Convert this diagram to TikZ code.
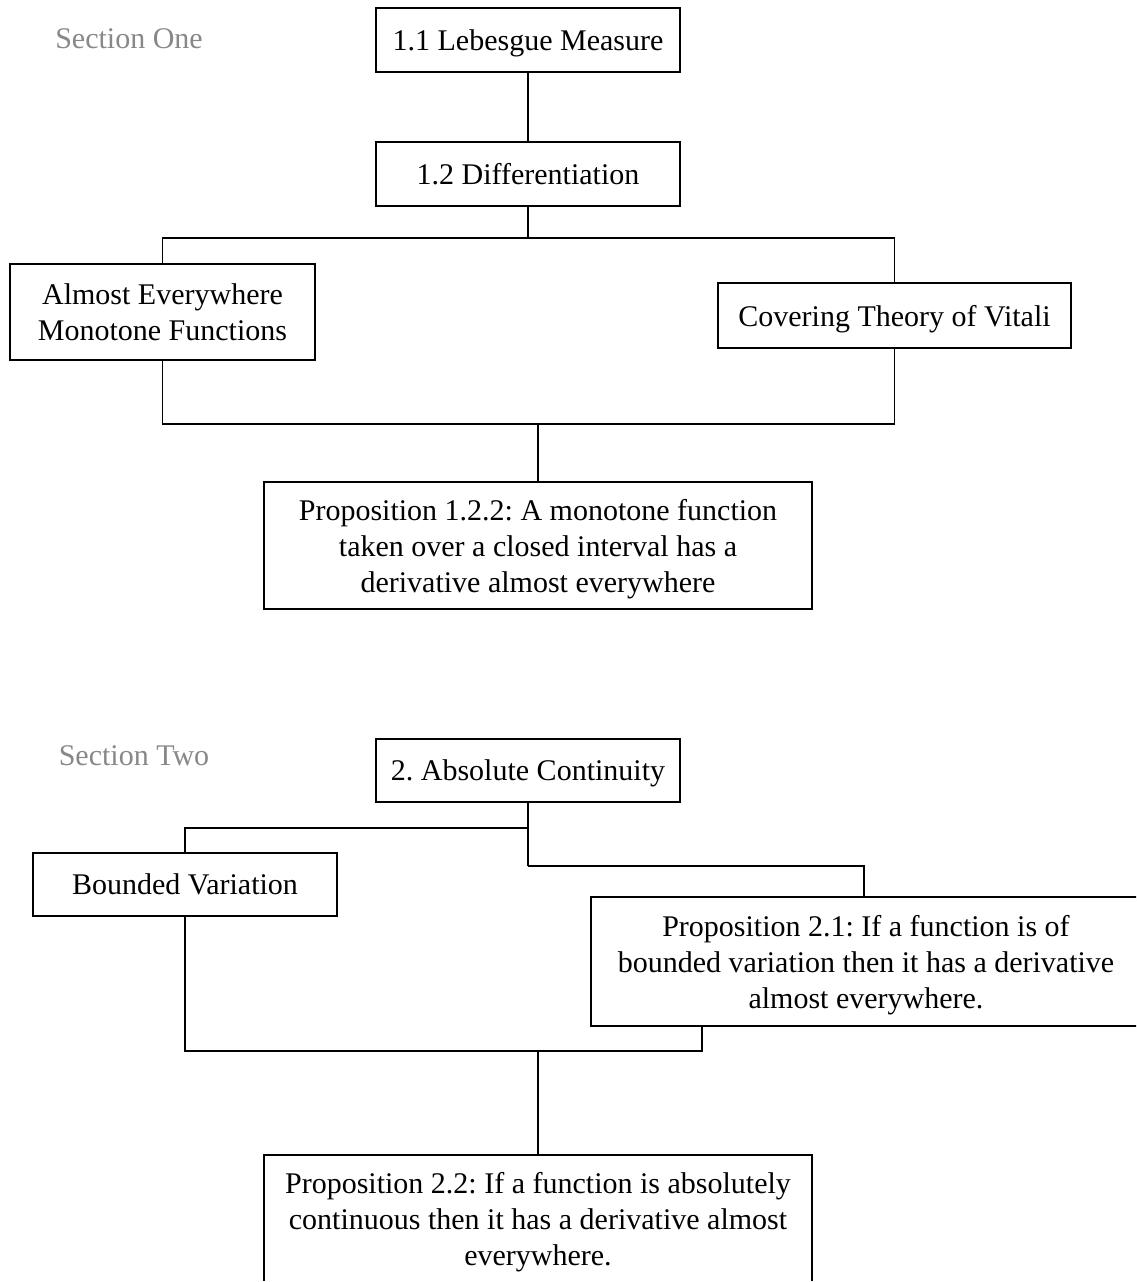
\documentclass[tikz,border=0pt]{standalone}
\usepackage{fontspec}
\setmainfont{Liberation Serif}
\definecolor{secgray}{HTML}{888888}
\begin{document}
\frenchspacing
\begin{tikzpicture}[x=1pt,y=-1pt,
  box/.style={draw, line width=1.6pt, align=center, inner sep=2pt, text depth=0pt,
    font=\fontsize{30}{36}\selectfont},
  seclabel/.style={text=secgray, font=\fontsize{30}{36}\selectfont, inner sep=0pt},
  conn/.style={line width=1.6pt}]
\useasboundingbox (0,0) rectangle (1136,1282);
\clip (0,0) rectangle (1136,1280.5);
\fill[white] (0,0) rectangle (1136,1282);

% Section One
\node[seclabel] (s1) at (129,39) {Section One};
\node[box, minimum width=304pt, minimum height=64pt] (L11) at (528,40) {1.1 Lebesgue Measure};
\node[box, minimum width=304pt, minimum height=64pt] (L12) at (528,174) {1.2 Differentiation};
\node[box, minimum width=305pt, minimum height=96pt] (AEM) at (162.5,312) {Almost Everywhere\\Monotone Functions};
\node[box, minimum width=353pt, minimum height=65pt] (CTV) at (894.5,315.5) {Covering Theory of Vitali};
\node[box, minimum width=548pt, minimum height=127pt] (P122) at (538,545.5) {Proposition 1.2.2: A monotone function\\taken over a closed interval has a\\derivative almost everywhere};

\coordinate (j1) at (528,238);
\coordinate (j2) at (538,424);
\draw[conn] (L11.south) -- (L12.north);
\draw[conn] (L12.south) -- (j1);
\draw[conn] (j1) -| (AEM.north);
\draw[conn] (j1) -| (CTV.north);
\draw[conn] (AEM.south) |- (j2);
\draw[conn] (CTV.south) |- (j2);
\draw[conn] (j2) -- (P122.north);

% Section Two
\node[seclabel] (s2) at (134,756) {Section Two};
\node[box, minimum width=304pt, minimum height=63pt] (AC) at (528,770.5) {2. Absolute Continuity};
\node[box, minimum width=304pt, minimum height=63pt] (BV) at (185,884.5) {Bounded Variation};
\node[box, minimum width=550pt, minimum height=129pt] (P21) at (866,961.5) {Proposition 2.1: If a function is of\\bounded variation then it has a derivative\\almost everywhere.};
\node[box, minimum width=548pt, minimum height=127pt] (P22) at (538,1218.5) {Proposition 2.2: If a function is absolutely\\continuous then it has a derivative almost\\everywhere.};

\coordinate (j3) at (528,828);
\coordinate (j4) at (528,866);
\coordinate (j5) at (538,1051);
\coordinate (p21t) at (864,897);
\coordinate (p21b) at (702,1026);
\draw[conn] (AC.south) -- (j3);
\draw[conn] (j3) -| (BV.north);
\draw[conn] (j3) -- (j4);
\draw[conn] (j4) -| (p21t);
\draw[conn] (BV.south) |- (j5);
\draw[conn] (p21b) |- (j5);
\draw[conn] (j5) -- (P22.north);
\end{tikzpicture}
\end{document}
